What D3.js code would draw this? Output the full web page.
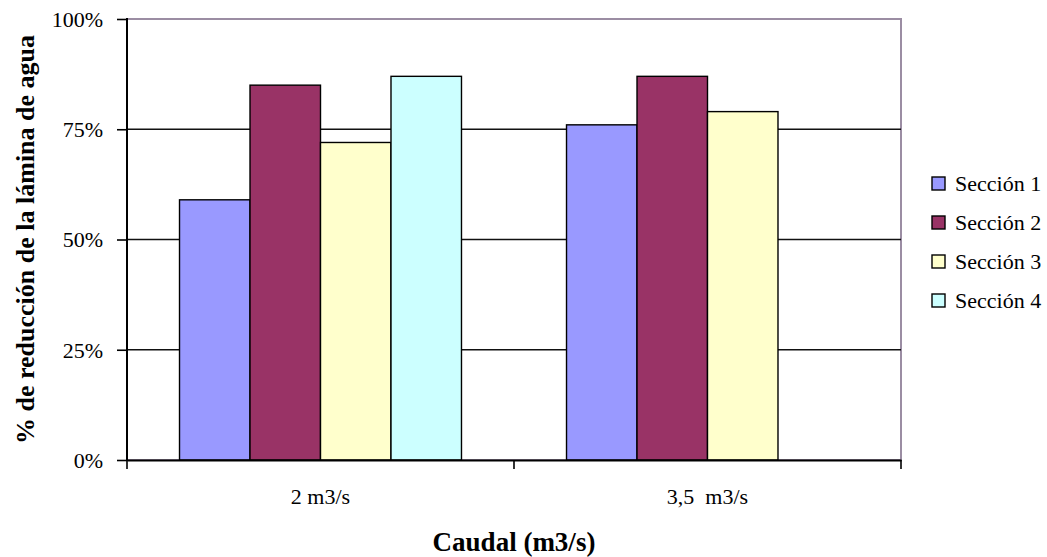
<!DOCTYPE html>
<html><head><meta charset="utf-8">
<script src="https://cdn.jsdelivr.net/npm/d3@7"></script>
<style>body{margin:0;background:#fff;}</style>
</head><body>
<svg id="c" width="1047" height="557"></svg>
<script>
const categories = ["2 m3/s", "3,5  m3/s"];
const seriesNames = ["Sección 1", "Sección 2", "Sección 3", "Sección 4"];
const seccion1 = [59, 76];
const seccion2 = [85, 87];
const seccion3 = [72, 79];
const seccion4 = [87, null];
const yTicks = [0, 25, 50, 75, 100];
const colors = ["#9999FF", "#993366", "#FFFFCC", "#CCFFFF"];

const FONT = "Liberation Serif";
const seriesData = [seccion1, seccion2, seccion3, seccion4];
const svg = d3.select("#c");
const L = 127, R = 901, T = 19, B = 460;

const x0 = d3.scaleBand().domain(categories).range([L, R]).paddingInner(0).paddingOuter(0);
const x1 = d3.scaleBand().domain(seriesNames).range([0, x0.bandwidth()]).paddingInner(0).paddingOuter(0.745);
const y = d3.scaleLinear().domain([0, 100]).range([B, T]);

// plot border
svg.append("rect").attr("x", L).attr("y", T).attr("width", R - L).attr("height", B - T)
  .attr("fill", "none").attr("stroke", "#9b8da3").attr("stroke-width", 2);

// gridlines
svg.append("g").selectAll("line").data(yTicks.filter(d => d > 0 && d < 100)).join("line")
  .attr("x1", L).attr("x2", R).attr("y1", d => y(d)).attr("y2", d => y(d))
  .attr("stroke", "#111").attr("stroke-width", 1.3);

// bars
categories.forEach((c, ci) => {
  seriesData.forEach((s, si) => {
    const v = s[ci];
    if (v == null) return;
    svg.append("rect")
      .attr("x", x0(c) + x1(seriesNames[si]))
      .attr("y", y(v))
      .attr("width", x1.bandwidth())
      .attr("height", B - y(v))
      .attr("fill", colors[si]).attr("stroke", "#000").attr("stroke-width", 1.4);
  });
});

// y axis
const ya = d3.axisLeft(y).tickValues(yTicks).tickFormat(d => d + "%").tickSize(10).tickPadding(14);
const gy = svg.append("g").attr("transform", `translate(${L},0)`).call(ya);
gy.select(".domain").remove();
svg.append("line").attr("x1", L).attr("x2", L).attr("y1", T - 1).attr("y2", B + 1)
  .attr("stroke", "#000").attr("stroke-width", 2);
gy.selectAll(".tick line").attr("stroke", "#000").attr("stroke-width", 1.6);
gy.selectAll(".tick text").attr("fill", "#000").attr("dy", "0.34em")
  .style("font-family", FONT).style("font-size", "22px");

// x axis
const xa = d3.axisBottom(x0).tickSize(0).tickPadding(28);
const gx = svg.append("g").attr("transform", `translate(0,${B})`).call(xa);
gx.select(".domain").attr("stroke", "#000").attr("stroke-width", 2);
gx.selectAll(".tick text").attr("fill", "#000")
  .style("font-family", FONT).style("font-size", "22px").style("white-space", "pre");
// tick marks at category boundaries
const bounds = [L, x0(categories[1]), R];
svg.append("g").selectAll("line").data(bounds).join("line")
  .attr("x1", d => d).attr("x2", d => d).attr("y1", B).attr("y2", B + 9)
  .attr("stroke", "#000").attr("stroke-width", 1.6);

// axis titles
svg.append("text").attr("x", (L + R) / 2).attr("y", 551).attr("text-anchor", "middle")
  .style("font-family", FONT).style("font-size", "27px").style("font-weight", "bold")
  .text("Caudal (m3/s)");
svg.append("text").attr("transform", `translate(34,${(T + B) / 2}) rotate(-90)`)
  .attr("text-anchor", "middle")
  .style("font-family", FONT).style("font-size", "26px").style("font-weight", "bold")
  .text("% de reducción de la lámina de agua");

// legend
const lg = svg.append("g").attr("transform", "translate(932,177)");
seriesNames.forEach((n, i) => {
  const g = lg.append("g").attr("transform", `translate(0,${i * 39})`);
  g.append("rect").attr("x", 0).attr("y", 0).attr("width", 13).attr("height", 13)
    .attr("fill", colors[i]).attr("stroke", "#000").attr("stroke-width", 1.4);
  g.append("text").attr("x", 23).attr("y", 14)
    .style("font-family", FONT).style("font-size", "22px").text(n);
});
</script>
</body></html>
